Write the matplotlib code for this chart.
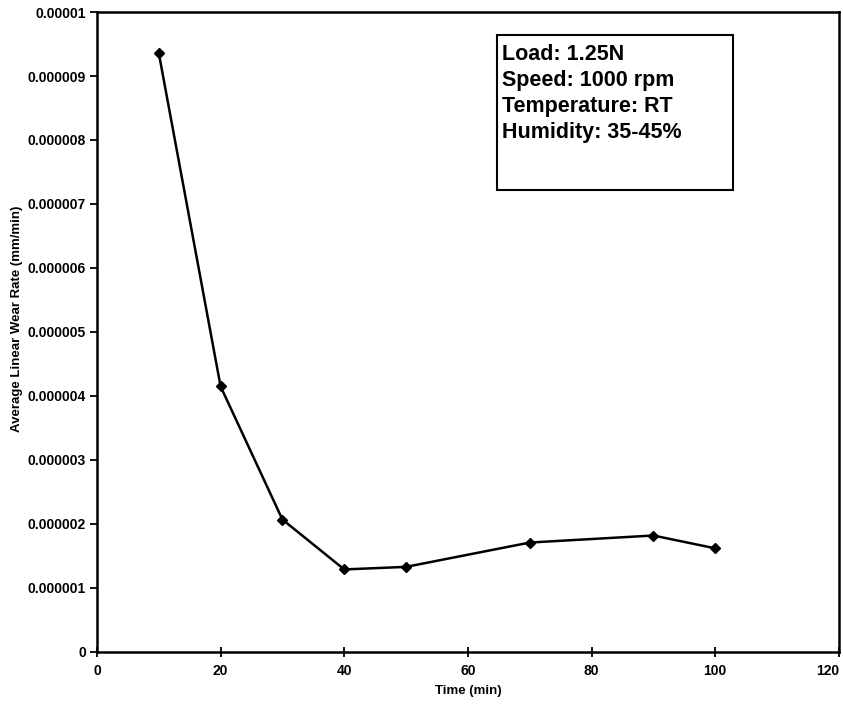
import numpy as np
import matplotlib
matplotlib.use("Agg")
from matplotlib import pyplot as plt
from matplotlib.patches import Rectangle

plt.rcParams["font.family"] = ["Liberation Sans", "DejaVu Sans"]
plt.rcParams["font.weight"] = "bold"

time_min = [10, 20, 30, 40, 50, 70, 90, 100]
wear_rate = [9.36e-6, 4.15e-6, 2.07e-6, 1.29e-6, 1.33e-6, 1.71e-6, 1.82e-6, 1.62e-6]

y_ticks = np.arange(0, 11) * 1e-6
y_labels = ["0", "0.000001", "0.000002", "0.000003", "0.000004", "0.000005",
            "0.000006", "0.000007", "0.000008", "0.000009", "0.00001"]
x_ticks = [0, 20, 40, 60, 80, 100, 120]
info_lines = ["Load: 1.25N", "Speed: 1000 rpm", "Temperature: RT", "Humidity: 35-45%"]

fig = plt.figure(figsize=(8.43, 7.06), dpi=100)
ax = fig.add_axes([0.115, 0.0765, 0.88, 0.9065])

ax.plot(time_min, wear_rate, color="black", linewidth=1.8, marker="D",
        markersize=5, markerfacecolor="black", markeredgecolor="black")

ax.set_xlim(0, 120)
ax.set_ylim(0, 1e-5)
ax.set_xticks(x_ticks)
xt = ax.set_xticklabels([str(t) for t in x_ticks], fontsize=10, fontweight="bold")
xt[-1].set_horizontalalignment("right")  # keep "120" inside the figure
ax.set_yticks(y_ticks)
ax.set_yticklabels(y_labels, fontsize=10, fontweight="bold")
ax.tick_params(axis="x", direction="inout", length=7, width=1.3, pad=5)
ax.tick_params(axis="y", direction="out", length=5, width=1.3, pad=3)
for s in ax.spines.values():
    s.set_linewidth(1.8)

ax.set_xlabel("Time (min)", fontsize=9.5, fontweight="bold", labelpad=5)
ax.set_ylabel("Average Linear Wear Rate (mm/min)", fontsize=9.5, fontweight="bold")
ax.yaxis.set_label_coords(-0.100, 0.52)

ax.add_patch(Rectangle((0.539, 0.722), 0.318, 0.242, transform=ax.transAxes,
                       facecolor="white", edgecolor="black", linewidth=1.5, zorder=5))
ax.text(0.546, 0.950, "\n".join(info_lines), transform=ax.transAxes, ha="left", va="top",
        fontsize=15.5, fontweight="bold", linespacing=1.32, zorder=6)

plt.savefig("out.png", dpi=100)
plt.close()
